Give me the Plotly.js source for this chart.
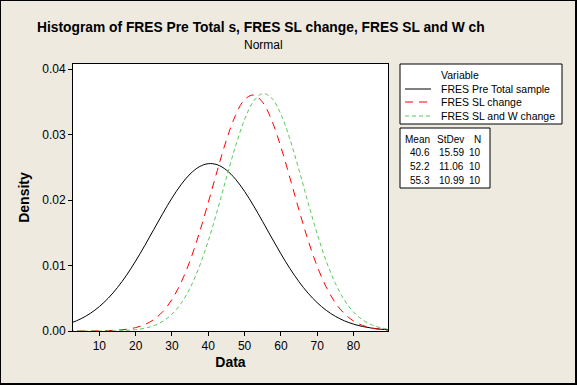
<!DOCTYPE html>
<html>
<head>
<meta charset="utf-8">
<script src="https://cdn.plot.ly/plotly-3.0.1.min.js"></script>
<style>
  html, body { margin: 0; padding: 0; background: #EEEAE0; }
  #wrap { position: relative; width: 577px; height: 385px; }
  #chart { position: absolute; left: 0; top: 0; width: 577px; height: 385px; }
  #frame { position: absolute; left: 0; top: 0; width: 577px; height: 385px; box-sizing: border-box;
           border-left: 1px solid #000; border-top: 1px solid #000; border-right: 2px solid #000; border-bottom: 2px solid #000;
           pointer-events: none; }
</style>
</head>
<body>
<div id="wrap"><div id="chart"></div><div id="frame"></div></div>
<script>
// Data
const dataX = [0, 2.5, 5, 7.5, 10, 12.5, 15, 17.5, 20, 22.5, 25, 27.5, 30, 32.5, 35, 37.5, 40, 42.5, 45, 47.5, 50, 52.5, 55, 57.5, 60, 62.5, 65, 67.5, 70, 72.5, 75, 77.5, 80, 82.5, 85, 87.5, 90];
const preTotalDensity = [0.000862, 0.001292, 0.001887, 0.002687, 0.003728, 0.005042, 0.006646, 0.008538, 0.010690, 0.013043, 0.015512, 0.017979, 0.020309, 0.022358, 0.023991, 0.025089, 0.025571, 0.025401, 0.024591, 0.023203, 0.021336, 0.019123, 0.016703, 0.014219, 0.011798, 0.009540, 0.007519, 0.005776, 0.004325, 0.003155, 0.002243, 0.001554, 0.001050, 0.000691, 0.000443, 0.000277, 0.000169];
const slChangeDensity = [0.0000005, 0.0000015, 0.0000040, 0.0000102, 0.0000249, 0.0000574, 0.000126, 0.000263, 0.000521, 0.000980, 0.001754, 0.002979, 0.004812, 0.007383, 0.010764, 0.014913, 0.019630, 0.024556, 0.029184, 0.032957, 0.035364, 0.036058, 0.034933, 0.032158, 0.028129, 0.023379, 0.018463, 0.013855, 0.009879, 0.006692, 0.004309, 0.002636, 0.001532, 0.000846, 0.000444, 0.000221, 0.000105];
const slWChangeDensity = [0.0000001, 0.0000004, 0.0000010, 0.0000028, 0.0000074, 0.0000185, 0.0000436, 0.0000979, 0.000209, 0.000422, 0.000812, 0.001481, 0.002565, 0.004220, 0.006593, 0.009778, 0.013773, 0.018422, 0.023397, 0.028219, 0.032316, 0.035142, 0.036287, 0.035581, 0.033129, 0.029290, 0.024591, 0.019603, 0.014839, 0.010667, 0.007281, 0.004719, 0.002905, 0.001697, 0.000942, 0.000497, 0.000248];
const seriesNames = ["FRES Pre Total sample", "FRES SL change", "FRES SL and W change"];
const statMean = ["40.6", "52.2", "55.3"];
const statStDev = ["15.59", "11.06", "10.99"];
const statN = ["10", "10", "10"];
const xTicks = [10, 20, 30, 40, 50, 60, 70, 80];
const yTicks = [0, 0.01, 0.02, 0.03, 0.04];

const FONT = "Liberation Sans, Arial, sans-serif";
const colors = ["#000000", "#FF0000", "#5CC85C"];
const dashes = ["solid", "8px,6px", "4px,3px"];
const seriesY = [preTotalDensity, slChangeDensity, slWChangeDensity];

// plot area in pixels: left 73, right 388, top 64, bottom 331
const PL = 73, PR = 388, PT = 64, PB = 331;
const px = v => (v - PL) / (PR - PL);
const py = v => (PB - v) / (PB - PT);

const traces = seriesY.map((ys, i) => ({
  x: dataX, y: ys, type: "scatter", mode: "lines", name: seriesNames[i],
  line: { color: colors[i], width: 1, dash: dashes[i], shape: "spline" },
  showlegend: false, hoverinfo: "skip"
}));

const shapes = [];
const annotations = [];

// Title and subtitle
annotations.push({ xref: "paper", yref: "paper", x: px(261), y: py(28), xanchor: "center", yanchor: "middle",
  text: "<b>Histogram of FRES Pre Total s, FRES SL change, FRES SL and W ch</b>", showarrow: false,
  font: { family: FONT, size: 13.8, color: "#000" } });
annotations.push({ xref: "paper", yref: "paper", x: px(263), y: py(45), xanchor: "center", yanchor: "middle",
  text: "Normal", showarrow: false, font: { family: FONT, size: 12, color: "#000" } });

// Legend box 1
shapes.push({ type: "rect", xref: "paper", yref: "paper", x0: px(400), x1: px(562), y0: py(64), y1: py(124),
  line: { color: "#000", width: 1 }, fillcolor: "#FFFFFF", layer: "above" });
annotations.push({ xref: "paper", yref: "paper", x: px(439), y: py(75), xanchor: "left", yanchor: "middle",
  text: "Variable", showarrow: false, font: { family: FONT, size: 10.5, color: "#000" } });
const rowY = [89, 102, 116];
seriesNames.forEach((nm, i) => {
  shapes.push({ type: "line", xref: "paper", yref: "paper", x0: px(405), x1: px(431), y0: py(rowY[i]), y1: py(rowY[i]),
    line: { color: colors[i], width: 1, dash: dashes[i] }, layer: "above" });
  annotations.push({ xref: "paper", yref: "paper", x: px(439), y: py(rowY[i]), xanchor: "left", yanchor: "middle",
    text: nm, showarrow: false, font: { family: FONT, size: 10.5, color: "#000" } });
});

// Legend box 2 (stats table)
shapes.push({ type: "rect", xref: "paper", yref: "paper", x0: px(400), x1: px(490), y0: py(128), y1: py(188),
  line: { color: "#000", width: 1 }, fillcolor: "#FFFFFF", layer: "above" });
const colRight = [432, 466, 483];
const headers = ["Mean", "StDev", "N"];
headers.forEach((h, j) => {
  annotations.push({ xref: "paper", yref: "paper", x: px(colRight[j]), y: py(139), xanchor: "right", yanchor: "middle",
    text: h, showarrow: false, font: { family: FONT, size: 10, color: "#000" } });
});
const statRowY = [152, 166, 180];
[statMean, statStDev, statN].forEach((col, j) => {
  col.forEach((v, i) => {
    annotations.push({ xref: "paper", yref: "paper", x: px(colRight[j]), y: py(statRowY[i]), xanchor: "right", yanchor: "middle",
      text: v, showarrow: false, font: { family: FONT, size: 10, color: "#000" } });
  });
});

const layout = {
  width: 577, height: 385,
  margin: { l: PL, r: 577 - PR, t: PT, b: 385 - PB, pad: 0 },
  paper_bgcolor: "#EEEAE0", plot_bgcolor: "#FFFFFF",
  showlegend: false,
  xaxis: {
    range: [2.75, 89.5], tickvals: xTicks, ticktext: xTicks.map(String),
    ticks: "outside", ticklen: 4, tickcolor: "#000", showline: true, linecolor: "#000", linewidth: 1, mirror: true,
    showgrid: false, zeroline: false, tickfont: { family: FONT, size: 12, color: "#000" },
    title: { text: "<b>Data</b>", font: { family: FONT, size: 14, color: "#000" }, standoff: 4 }
  },
  yaxis: {
    range: [0, 0.0408], tickvals: yTicks, ticktext: yTicks.map(v => v.toFixed(2)),
    ticks: "outside", ticklen: 4, tickcolor: "#000", showline: true, linecolor: "#000", linewidth: 1, mirror: true,
    showgrid: false, zeroline: false, tickfont: { family: FONT, size: 12, color: "#000" },
    title: { text: "<b>Density</b>", font: { family: FONT, size: 14, color: "#000" }, standoff: 9 }
  },
  shapes: shapes,
  annotations: annotations
};

Plotly.newPlot("chart", traces, layout, { staticPlot: true, displayModeBar: false });
</script>
</body>
</html>
